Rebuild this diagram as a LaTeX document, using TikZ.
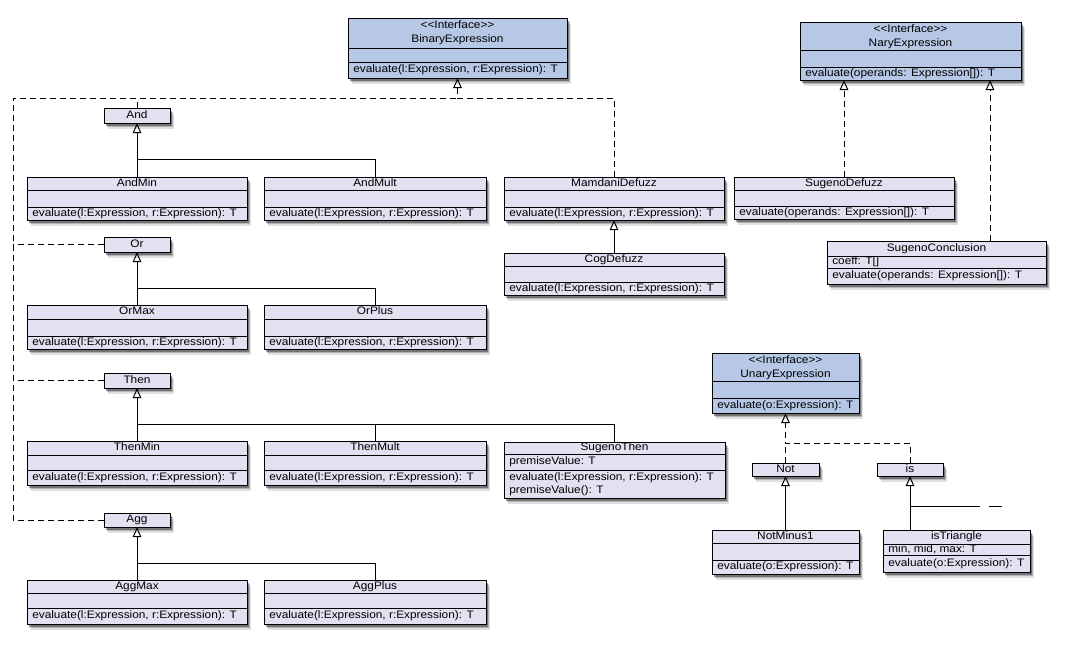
\documentclass[tikz,border=0pt]{standalone}
\usepackage{fontspec}
\setmainfont{Liberation Sans}
\newfontfamily\umlfont{Liberation Sans}[FakeStretch=1.09]
\usetikzlibrary{arrows.meta,shadows,calc}
\definecolor{clsfill}{HTML}{E4E0F1}
\definecolor{intfill}{HTML}{B6C8E6}
\newcommand\stereo[1]{\mbox{<}\mbox{<}#1\mbox{>}\mbox{>}}
\tikzset{
  shad/.style={drop shadow={shadow xshift=2.8pt,shadow yshift=-4.4pt,opacity=0.12,fill=black},
               drop shadow={shadow xshift=2.0pt,shadow yshift=-3.3pt,opacity=0.2,fill=black},
               drop shadow={shadow xshift=1.2pt,shadow yshift=-2.2pt,opacity=0.35,fill=black}},
  bx/.style={draw=black, line width=0.75pt, inner sep=0pt, outer sep=0pt, shad},
  cbox/.style={bx, fill=clsfill},
  ibox/.style={bx, fill=intfill},
  divl/.style={line width=0.6pt},
  txt/.style={inner sep=0pt, font=\umlfont\fontsize{8.15pt}{9.5pt}\selectfont, text height=6pt, text depth=1.7pt},
  gen/.style={line width=0.75pt, -{Triangle[open, length=7.5pt, width=6.4pt]}},
  real/.style={gen, dash pattern=on 4.5pt off 3pt},
  dsh/.style={line width=0.75pt, dash pattern=on 4.5pt off 3pt},
  ln/.style={line width=0.75pt},
}
% #1 name, #2 style, #3 x1, #4 y1, #5 x2, #6 y2
\newcommand\ubox[6]{%
  \node[#2, anchor=north west, minimum width={(#5-#3)*0.75pt}, minimum height={(#6-#4)*0.75pt}] (#1) at (#3,#4) {};}
% #1 name, #2 x1, #3 y1, #4 x2, #5 y2, #6 d1, #7 d2, #8 title, #9 method
\newcommand\cls[9]{%
  \ubox{#1}{cbox}{#2}{#3}{#4}{#5}
  \draw[divl] (#2,#6) -- (#4,#6) (#2,#7) -- (#4,#7);
  \node[txt] (#1-t) at ({(#2+#4)/2},{(#3+#6)/2}) {#8};
  \node[txt, anchor=west] (#1-m) at ({#2+5},{(#7+#5)/2}) {#9};}
% small operator box: #1 name, #2 x1, #3 y1, #4 x2, #5 y2
\newcommand\opbox[5]{%
  \ubox{#1}{cbox}{#2}{#3}{#4}{#5}
  \node[txt] (#1-t) at (#1.center) {#1};}
\begin{document}
\begin{tikzpicture}[x=0.75pt,y=-0.75pt]
\useasboundingbox (0,0) rectangle (1066,647);
\fill[white] (0,0) rectangle (1066,647);

% ---------- interfaces ----------
\ubox{BinaryExpression}{ibox}{348}{18}{567}{78}
\draw[divl] (348,48) -- (567,48) (348,62) -- (567,62);
\node[txt] (BE-s) at (457.5,26) {\stereo{Interface}};
\node[txt] (BE-t) at (457.5,40) {BinaryExpression};
\node[txt, anchor=west] (BE-m) at (353,70) {evaluate(l:Expression, r:Expression): T};

\ubox{NaryExpression}{ibox}{800}{22}{1021}{80}
\draw[divl] (800,50) -- (1021,50) (800,67) -- (1021,67);
\node[txt] (NE-s) at (910.5,30) {\stereo{Interface}};
\node[txt] (NE-t) at (910.5,44) {NaryExpression};
\node[txt, anchor=west] (NE-m) at (805,73.5) {evaluate(operands: Expression[]): T};

\ubox{UnaryExpression}{ibox}{712}{353}{859}{413}
\draw[divl] (712,381) -- (859,381) (712,398) -- (859,398);
\node[txt] (UE-s) at (785.5,361) {\stereo{Interface}};
\node[txt] (UE-t) at (785.5,375) {UnaryExpression};
\node[txt, anchor=west] (UE-m) at (717,405.5) {evaluate(o:Expression): T};

% ---------- operator boxes ----------
\opbox{And}{104}{108}{170}{123}
\opbox{Or}{104}{237}{170}{252}
\opbox{Then}{104}{373}{170}{388}
\opbox{Agg}{104}{513}{170}{527}
\opbox{Not}{752}{463}{819}{476}
\opbox{is}{877}{463}{943}{476}

% ---------- classes ----------
\cls{AndMin}{27}{177}{247}{220}{190}{207}{AndMin}{evaluate(l:Expression, r:Expression): T}
\cls{AndMult}{264}{177}{486}{220}{190}{207}{AndMult}{evaluate(l:Expression, r:Expression): T}
\cls{MamdaniDefuzz}{504}{177}{724}{220}{190}{207}{MamdaniDefuzz}{evaluate(l:Expression, r:Expression): T}
\cls{SugenoDefuzz}{734}{177}{954}{219}{190}{206}{SugenoDefuzz}{evaluate(operands: Expression[]): T}
\cls{CogDefuzz}{504}{253}{724}{295}{266}{282}{CogDefuzz}{evaluate(l:Expression, r:Expression): T}
\cls{OrMax}{27}{305}{247}{349}{319}{336}{OrMax}{evaluate(l:Expression, r:Expression): T}
\cls{OrPlus}{264}{305}{486}{349}{319}{336}{OrPlus}{evaluate(l:Expression, r:Expression): T}
\cls{ThenMin}{27}{441}{247}{485}{455}{470}{ThenMin}{evaluate(l:Expression, r:Expression): T}
\cls{ThenMult}{264}{441}{486}{485}{455}{470}{ThenMult}{evaluate(l:Expression, r:Expression): T}
\cls{AggMax}{27}{580}{247}{624}{593}{608}{AggMax}{evaluate(l:Expression, r:Expression): T}
\cls{AggPlus}{264}{580}{486}{624}{593}{608}{AggPlus}{evaluate(l:Expression, r:Expression): T}
\cls{NotMinus1}{712}{530}{859}{574}{543}{560}{NotMinus1}{evaluate(o:Expression): T}

% classes with attributes
\cls{SugenoConclusion}{827}{241}{1046}{284}{256}{268}{SugenoConclusion}{evaluate(operands: Expression[]): T}
\node[txt, anchor=west] (SugenoConclusion-a) at (832,262) {coeff: T[]};
\cls{isTriangle}{883}{530}{1030}{572}{544}{555}{isTriangle}{evaluate(o:Expression): T}
\node[txt, anchor=west] (isTriangle-a) at (888,549.5) {min, mid, max: T};

\ubox{SugenoThen}{cbox}{504}{442}{725}{498}
\draw[divl] (504,454) -- (725,454) (504,470) -- (725,470);
\node[txt] (SugenoThen-t) at (614.5,448) {SugenoThen};
\node[txt, anchor=west] (SugenoThen-a) at (509,462) {premiseValue: T};
\node[txt, anchor=west] (SugenoThen-m1) at (509,477.5) {evaluate(l:Expression, r:Expression): T};
\node[txt, anchor=west] (SugenoThen-m2) at (509,491) {premiseValue(): T};

% ---------- junction coordinates ----------
\coordinate (bj) at (457.5,98);
\coordinate (lj) at (13,98);
\coordinate (aj) at (137,159);
\coordinate (oj) at (137,288);
\coordinate (tj) at (137,424);
\coordinate (gj) at (137,563);
\coordinate (scj) at (990,241);
\coordinate (uj) at (785.5,443);
\coordinate (ij) at (910,506);

% ---------- realizations (dashed) ----------
\draw[real] (MamdaniDefuzz.north) |- (bj) -- (BinaryExpression.south);
\draw[dsh] (Agg.west) -| (lj) -- (bj);
\draw[dsh] (Then.west) -- (Then.west -| lj);
\draw[dsh] (Or.west) -- (Or.west -| lj);
\draw[dsh] (And.north) -- (And.north |- lj);

\draw[real] (SugenoDefuzz.north) -- (SugenoDefuzz.north |- NaryExpression.south);
\draw[real] (scj) -- (scj |- NaryExpression.south);

\draw[real] (is.north) |- (uj) -- (UnaryExpression.south);
\draw[dsh] (Not.north) -- (Not.north |- uj);

% ---------- generalizations (solid) ----------
\draw[gen] (AndMin.north) -- (And.south);
\draw[ln] (AndMult.north) |- (aj);
\draw[gen] (OrMax.north) -- (Or.south);
\draw[ln] (OrPlus.north) |- (oj);
\draw[gen] (ThenMin.north) -- (Then.south);
\draw[ln] (ThenMult.north) |- (tj);
\draw[ln] (SugenoThen.north) |- (tj);
\draw[gen] (AggMax.north) -- (Agg.south);
\draw[ln] (AggPlus.north) |- (gj);
\draw[gen] (CogDefuzz.north) -- (MamdaniDefuzz.south);
\draw[gen] (NotMinus1.north) -- (Not.south);
\draw[gen] (is.south |- isTriangle.north) -- (is.south);
\draw[ln] (ij) -- ++(70,0) coordinate (ik);
\draw[dsh, dash pattern=on 0pt off 6.75pt on 9.75pt] (ik) -- ++(22,0);
\end{tikzpicture}
\end{document}
